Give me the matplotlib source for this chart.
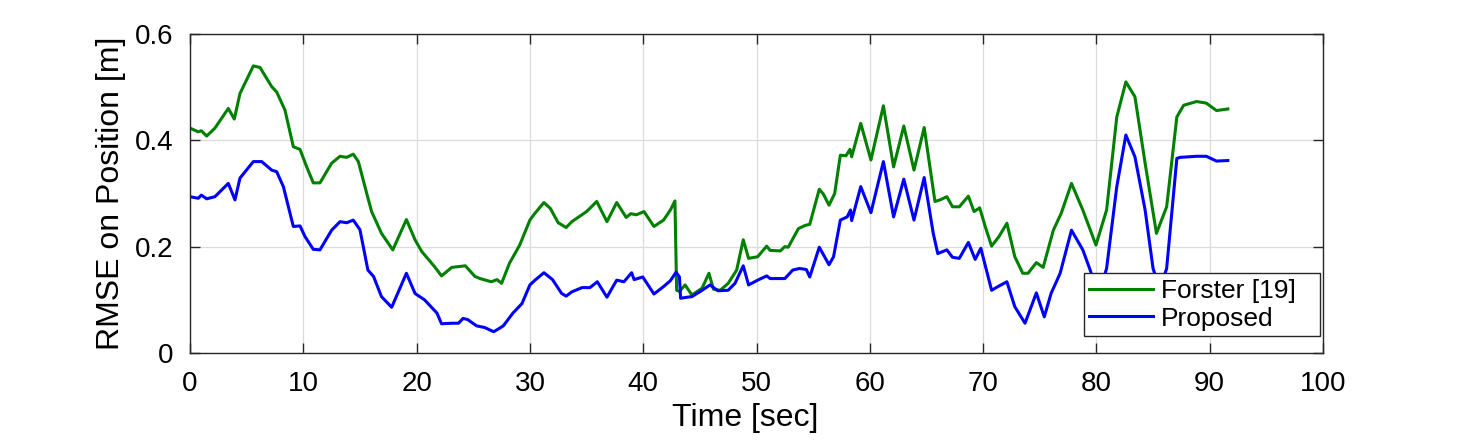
import matplotlib.pyplot as plt

plt.rcParams['font.family'] = ['Liberation Sans', 'DejaVu Sans']

# Forster [19]
t_forster = [0, 0.73, 1.0, 1.47, 2.2, 3.38, 3.91, 4.41, 5.59, 6.18, 7.21, 7.65, 8.38, 9.12, 9.71,
             10.3, 10.88, 11.47, 12.5, 13.24, 13.83, 14.41, 14.86, 15.6, 16.03, 16.9, 17.9, 19.1,
             19.86, 20.45, 21.6, 22.2, 23.1, 24.3, 25.15, 25.6, 26.6, 27.1, 27.5, 28.2, 29.1, 30.0,
             30.45, 31.24, 31.8, 32.5, 33.2, 33.7, 35.0, 35.9, 36.8, 37.66, 38.5, 38.9, 39.4, 40.07,
             40.95, 41.8, 42.4, 42.8, 42.95, 43.2, 43.7, 44.3, 45.2, 45.8, 46.2, 46.8, 47.5, 48.25,
             48.83, 49.3, 50.1, 50.9, 51.2, 52.1, 52.5, 52.8, 53.7, 54.3, 54.7, 55.54, 55.9, 56.4,
             56.9, 57.4, 57.9, 58.25, 58.4, 59.2, 60.1, 61.2, 62.1, 63.0, 63.9, 64.8, 65.75, 66.2,
             66.8, 67.3, 67.9, 68.7, 69.2, 69.7, 70.2, 70.75, 71.4, 72.1, 72.8, 73.5, 73.97, 74.7,
             75.3, 76.2, 76.9, 77.8, 78.8, 79.96, 80.9, 81.8, 82.6, 83.4, 84.3, 85.3, 86.2, 87.1,
             87.7, 88.85, 89.7, 90.6, 91.6]
rmse_forster = [0.423, 0.416, 0.418, 0.408, 0.423, 0.460, 0.440, 0.488, 0.540, 0.537, 0.501, 0.491,
                0.457, 0.388, 0.383, 0.350, 0.320, 0.320, 0.357, 0.370, 0.368, 0.374, 0.360, 0.300,
                0.266, 0.225, 0.194, 0.251, 0.213, 0.191, 0.162, 0.145, 0.161, 0.164, 0.144, 0.140,
                0.134, 0.138, 0.131, 0.169, 0.203, 0.250, 0.263, 0.283, 0.272, 0.245, 0.236, 0.247,
                0.266, 0.285, 0.247, 0.283, 0.255, 0.262, 0.260, 0.266, 0.238, 0.250, 0.269, 0.286,
                0.118, 0.116, 0.128, 0.109, 0.122, 0.150, 0.120, 0.118, 0.131, 0.156, 0.213, 0.178,
                0.181, 0.201, 0.193, 0.192, 0.200, 0.199, 0.234, 0.240, 0.242, 0.308, 0.299, 0.278,
                0.300, 0.372, 0.371, 0.383, 0.369, 0.432, 0.363, 0.465, 0.350, 0.427, 0.344, 0.424,
                0.285, 0.288, 0.294, 0.275, 0.275, 0.295, 0.266, 0.273, 0.237, 0.201, 0.219, 0.244,
                0.181, 0.150, 0.150, 0.170, 0.161, 0.231, 0.263, 0.319, 0.269, 0.203, 0.269, 0.444,
                0.510, 0.482, 0.357, 0.225, 0.275, 0.444, 0.466, 0.473, 0.470, 0.456, 0.459]

# Proposed
t_proposed = [0, 0.73, 1.0, 1.47, 2.2, 3.38, 3.97, 4.41, 5.59, 6.33, 7.21, 7.65, 8.24, 9.12, 9.71,
              10.15, 10.88, 11.47, 12.5, 13.24, 13.83, 14.41, 15.0, 15.7, 16.2, 16.9, 17.8, 19.1,
              19.86, 20.7, 21.8, 22.2, 23.1, 23.7, 24.1, 24.5, 25.3, 26.0, 26.8, 27.2, 27.65, 28.5,
              29.3, 30.0, 30.45, 31.24, 32.0, 32.8, 33.2, 33.7, 34.6, 35.3, 35.95, 36.8, 37.66, 38.3,
              38.98, 39.2, 39.96, 40.95, 41.8, 42.4, 42.9, 43.2, 43.3, 43.9, 44.3, 45.2, 45.9, 46.6,
              47.5, 48.1, 48.83, 49.3, 50.1, 50.9, 51.2, 52.5, 53.2, 53.8, 54.4, 54.7, 55.54, 56.4,
              56.8, 57.4, 58.0, 58.3, 58.4, 59.2, 60.1, 61.2, 62.1, 63.0, 63.9, 64.8, 65.6, 66.0,
              66.8, 67.3, 67.9, 68.7, 69.3, 69.8, 70.75, 71.4, 72.1, 72.8, 73.7, 74.7, 75.4, 76.0,
              76.8, 77.8, 78.8, 79.4, 80.2, 80.9, 81.8, 82.6, 83.4, 84.3, 85.0, 85.6, 86.2, 87.1,
              87.4, 88.85, 89.7, 90.6, 91.6]
rmse_proposed = [0.294, 0.291, 0.297, 0.290, 0.294, 0.319, 0.288, 0.329, 0.360, 0.360, 0.344, 0.341,
                 0.313, 0.238, 0.239, 0.219, 0.195, 0.194, 0.231, 0.247, 0.245, 0.250, 0.232, 0.156,
                 0.144, 0.106, 0.086, 0.150, 0.112, 0.100, 0.075, 0.055, 0.056, 0.056, 0.065, 0.063,
                 0.051, 0.048, 0.040, 0.045, 0.051, 0.075, 0.093, 0.128, 0.137, 0.151, 0.138, 0.112,
                 0.107, 0.115, 0.123, 0.123, 0.134, 0.105, 0.137, 0.134, 0.151, 0.138, 0.143, 0.111,
                 0.125, 0.136, 0.152, 0.143, 0.103, 0.105, 0.106, 0.118, 0.128, 0.117, 0.118, 0.131,
                 0.164, 0.128, 0.137, 0.145, 0.140, 0.140, 0.156, 0.159, 0.157, 0.143, 0.199, 0.166,
                 0.181, 0.250, 0.256, 0.269, 0.249, 0.313, 0.264, 0.360, 0.256, 0.327, 0.250, 0.330,
                 0.225, 0.187, 0.194, 0.180, 0.178, 0.208, 0.176, 0.197, 0.118, 0.126, 0.134, 0.087,
                 0.056, 0.113, 0.068, 0.112, 0.150, 0.231, 0.194, 0.159, 0.110, 0.159, 0.313, 0.410,
                 0.369, 0.269, 0.159, 0.120, 0.159, 0.366, 0.368, 0.370, 0.370, 0.361, 0.362]

fig = plt.figure(figsize=(14.63, 4.42), dpi=100)
ax = fig.add_axes([190 / 1463, 89 / 442, 1133 / 1463, 319 / 442])

ax.plot(t_forster, rmse_forster, color=(0, 0.5, 0), lw=2.2, label='Forster [19]')
ax.plot(t_proposed, rmse_proposed, color=(0, 0, 1), lw=2.2, label='Proposed')

ax.set_xlim(0, 100)
ax.set_ylim(0, 0.6)
ax.set_xticks(range(0, 101, 10))
ax.set_yticks([0, 0.2, 0.4, 0.6])
ax.set_yticklabels(['0', '0.2', '0.4', '0.6'])
ax.grid(True, color='#dcdcdc', lw=0.9)
ax.set_axisbelow(True)
ax.tick_params(direction='in', length=7, width=1, labelsize=20, top=True, right=True,
               color='#262626')
ax.tick_params(axis='x', pad=13)
ax.tick_params(axis='y', pad=12)
for s in ax.spines.values():
    s.set_color('#262626')
    s.set_linewidth(1)

ax.set_xlabel('Time [sec]', fontsize=23, labelpad=4, x=0.49)
ax.set_ylabel('RMSE on Position [m]', fontsize=23, labelpad=6)

leg = ax.legend(loc='lower left', bbox_to_anchor=(894 / 1133, 17 / 319, 236 / 1133, 68 / 319),
                mode='expand', borderaxespad=0, fontsize=19, handlelength=2.4,
                handletextpad=0.3, borderpad=0.2, labelspacing=0.15, fancybox=False,
                framealpha=1, edgecolor='#262626')
leg.get_frame().set_linewidth(1)

fig.savefig('out.png', dpi=100)
